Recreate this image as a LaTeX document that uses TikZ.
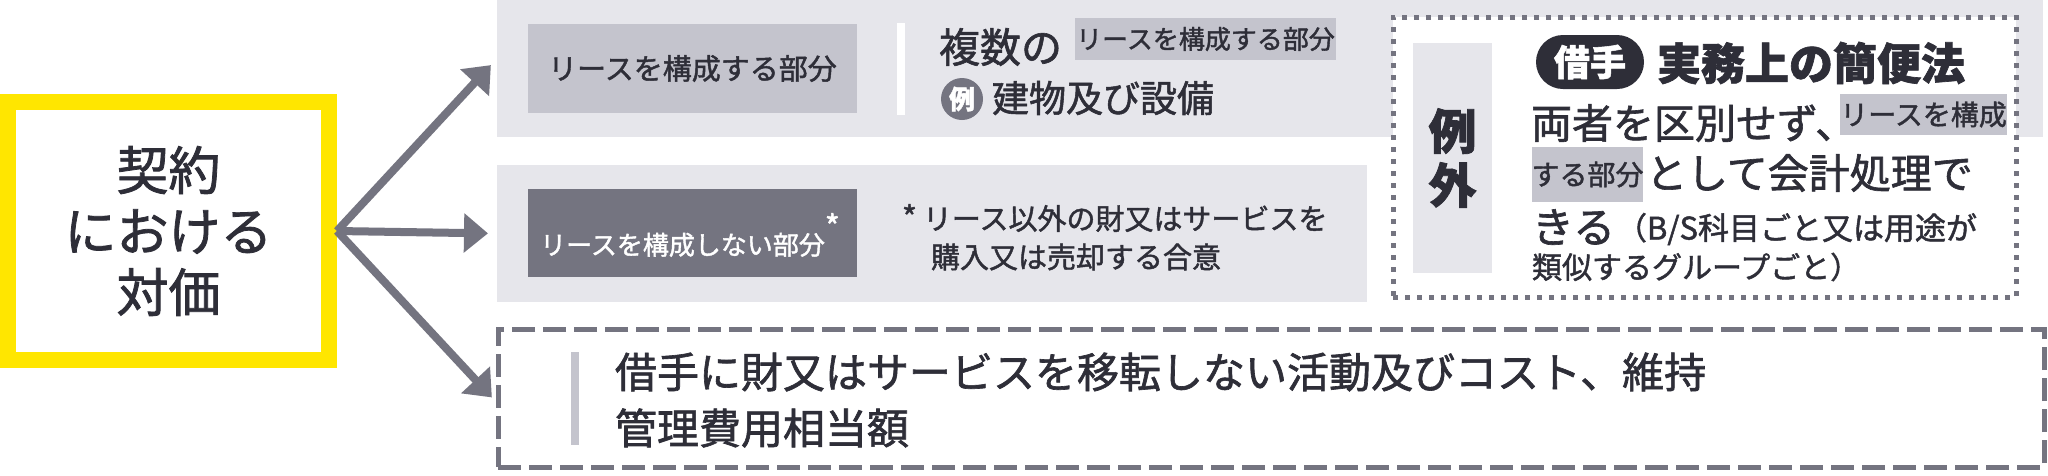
\documentclass[tikz,border=0pt]{standalone}
\usepackage{fontspec}
\setmainfont{Noto Sans CJK JP}[FakeBold=1.5]
\usetikzlibrary{arrows.meta,fit}
\definecolor{eyyellow}{HTML}{FFE600}
\definecolor{band}{HTML}{E6E6EB}
\definecolor{lightbox}{HTML}{C4C4CD}
\definecolor{midgray}{HTML}{747480}
\definecolor{ink}{HTML}{2E2E38}
\newcommand\myfs[1]{\fontsize{#1}{#1}\selectfont}
\begin{document}
\begin{tikzpicture}[x=1pt,y=-1pt,
  every node/.style={inner sep=0pt, outer sep=0pt, text=ink},
  area/.style={rectangle, inner sep=0pt, outer sep=0pt},
  arr/.style={draw=midgray, line width=8pt, -{Triangle[length=24pt,width=38pt]}, shorten >=9pt},
  plain/.style={anchor=west, text=ink},
  hl/.style={area, fill=lightbox},
]
\useasboundingbox (0,0) rectangle (2048,475);
\fill[white] (0,0) rectangle (2048,475);

% main box
\node[area, draw=eyyellow, line width=16pt, fill=white, outer sep=8pt,
      minimum width=321pt, minimum height=258pt, align=center,
      font=\fontsize{52}{61}\selectfont] (main) at (168.5,231) {契約\\における\\対価};

% bands
\node[area, fill=band, fit={(497,0) (2043,137)}] (band1) {};
\node[area, fill=band, fit={(497,165) (1367,302)}] (band2) {};
\node[area, draw=midgray, line width=5pt, dash pattern=on 23pt off 8pt, fit={(498,329) (2044,467)}] (low) {};

% arrows
\draw[arr] (main.east) -- ([yshift=10pt]band1.west);
\draw[arr] (main.east) -- (band2.west);
\draw[arr] (main.east) -- ([yshift=-6pt]low.west);

% band 1 content
\node[hl, fit={(528,24) (857,113)}] (lease) {};
\node[font=\myfs{29}] (leaset) at (lease.center) {リースを構成する部分};
\node[area, fill=white, fit={(897,23) (905,115)}] (wbar) {};
\node[plain, font=\myfs{41}] (multi) at (939,47) {複数の};
\node[hl, fit={(1075,18) (1336,60)}] (hl1) {};
\node[font=\myfs{26}] (hl1t) at (hl1.center) {リースを構成する部分};
\node[circle, fill=midgray, minimum size=42pt, text=white, font=\bfseries\myfs{26}] (ex) at (962,99) {例};
\node[plain, font=\myfs{37}] (bldg) at (992,98) {建物及び設備};

% band 2 content
\node[area, fill=midgray, fit={(528,189) (857,277)}] (nonlease) {};
\node[text=white, font=\myfs{26}] (nonleaset) at (690,235) {リースを構成しない部分\raisebox{16pt}{\myfs{32}*}};
\node[plain, font=\myfs{29}] (foot1) at (902,218) {\myfs{32}*\hspace{6pt}\myfs{29}リース以外の財又はサービスを};
\node[plain, font=\myfs{29}] (foot2) at (931,257) {購入又は売却する合意};

% exception box
\node[area, fill=white, draw=midgray, line width=5pt, dash pattern=on 5pt off 7pt, fit={(1393,17) (2016,297)}] (exc) {};
\node[area, fill=band, fit={(1413,43) (1492,273)}] (exlab) {};
\node[align=center, font=\bfseries\fontsize{48}{54}\selectfont] (exlabt) at (exlab.center) {例\\外};
\node[area, fill=ink, rounded corners=27pt, fit={(1536,35) (1644,89)}] (badge) {};
\node[text=white, font=\bfseries\myfs{36}] (badget) at (badge.center) {借手};
\node[plain, font=\bfseries\myfs{44}] (simple) at (1657,63) {実務上の簡便法};
\node[plain, font=\myfs{41}] (l2) at (1531,123) {両者を区別せず、};
\node[hl, fit={(1840,94) (2007,135)}] (hl2) {};
\node[font=\myfs{28}] (hl2t) at (hl2.center) {リースを構成};
\node[hl, fit={(1532,147) (1643,202)}] (hl3) {};
\node[font=\myfs{28}] (hl3t) at (hl3.center) {する部分};
\node[plain, font=\myfs{41}] (l3) at (1646,173) {として会計処理で};
\node[plain, font=\myfs{42}] (l4) at (1532,227) {きる};
\node[plain, font=\myfs{31}] (l4b) at (1616,229) {（B/S科目ごと又は用途が};
\node[plain, font=\myfs{30}] (l5) at (1532,267) {類似するグループごと）};

% bottom box content
\node[hl, fit={(571,352) (579,445)}] (lbar) {};
\node[plain, font=\myfs{42}] (b1) at (615,372) {借手に財又はサービスを移転しない活動及びコスト、維持};
\node[plain, font=\myfs{42}] (b2) at (615,428) {管理費用相当額};
\end{tikzpicture}
\end{document}
